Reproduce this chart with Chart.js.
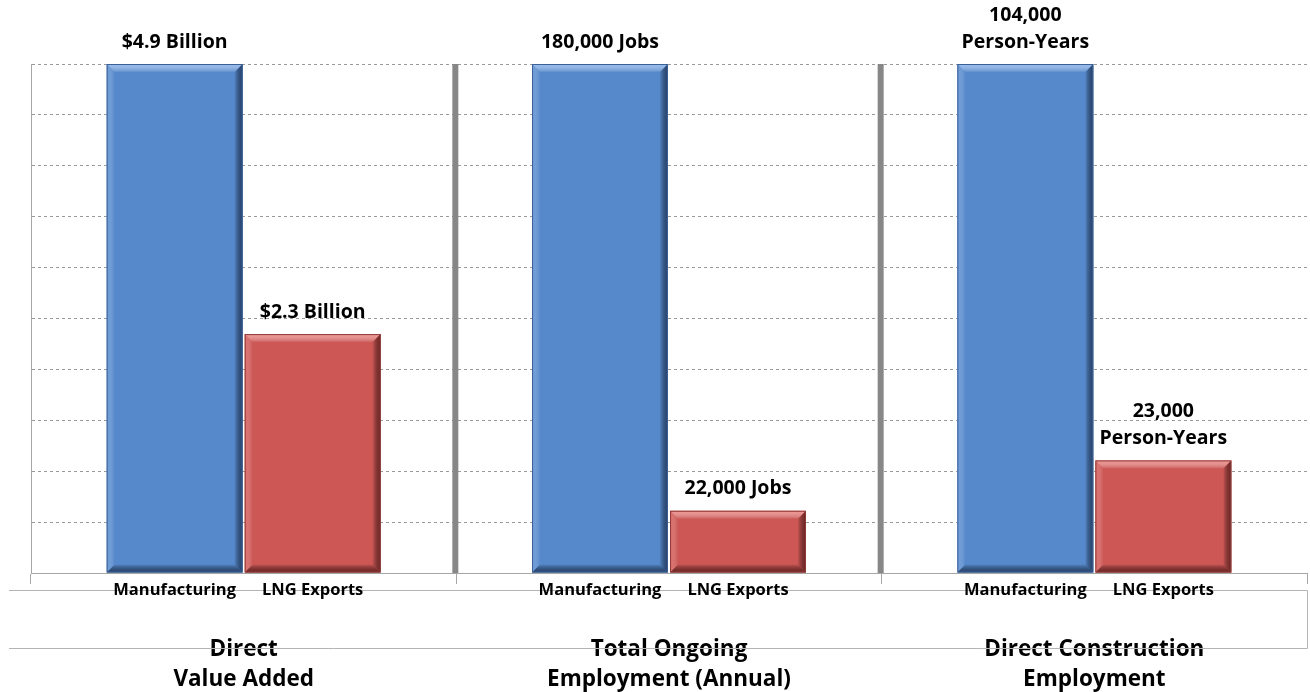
<!DOCTYPE html>
<html>
<head>
<meta charset="utf-8">
<script src="https://cdn.jsdelivr.net/npm/chart.js@4.4.0/dist/chart.umd.min.js"></script>
<style>
  html, body { margin: 0; padding: 0; background: #ffffff; }
  #wrap { width: 1310px; height: 692px; position: relative; }
</style>
</head>
<body>
<div id="wrap"><canvas id="c" width="1310" height="692"></canvas></div>
<script>
// ---- data ----
const groupLabels = [["Direct", "Value Added"], ["Total Ongoing", "Employment (Annual)"], ["Direct Construction", "Employment"]];
const seriesNames = ["Manufacturing", "LNG Exports"];
const manufacturingValues = [4.9, 180000, 104000];
const lngValues = [2.3, 22000, 23000];
const manufacturingLabels = [["$4.9 Billion"], ["180,000 Jobs"], ["104,000", "Person-Years"]];
const lngLabels = [["$2.3 Billion"], ["22,000 Jobs"], ["23,000", "Person-Years"]];
const yMin = 0, yMax = 100, yStep = 10;

// relative heights (share of manufacturing, in %)
const manufacturingShare = manufacturingValues.map(v => 100);
const lngShare = lngValues.map((v, i) => v / manufacturingValues[i] * 100);
const valueLabels = [manufacturingLabels, lngLabels];

const FONT = "'Open Sans', 'Noto Sans', 'DejaVu Sans', sans-serif";

const bevelPlugin = {
  id: 'bevel',
  afterDatasetsDraw(chart) {
    const ctx = chart.ctx;
    const shades = [
      { light: 'rgba(150,190,245,0.9)', side: 'rgba(120,165,230,0.5)', dark: 'rgba(30,55,95,0.85)', line: '#3d6194' },
      { light: 'rgba(245,150,145,0.9)', side: 'rgba(235,125,120,0.5)', dark: 'rgba(95,30,28,0.85)', line: '#8e3b38' }
    ];
    chart.data.datasets.forEach((ds, di) => {
      const meta = chart.getDatasetMeta(di);
      const s = shades[di];
      meta.data.forEach(el => {
        const l = el.x - el.width / 2, r = el.x + el.width / 2, t = el.y, b = el.base;
        const k = 8;
        ctx.save();
        let g = ctx.createLinearGradient(0, t, 0, t + k);
        g.addColorStop(0, s.light); g.addColorStop(1, 'rgba(255,255,255,0.05)');
        ctx.fillStyle = g;
        ctx.beginPath(); ctx.moveTo(l, t); ctx.lineTo(r, t); ctx.lineTo(r - k, t + k); ctx.lineTo(l + k, t + k); ctx.closePath(); ctx.fill();
        g = ctx.createLinearGradient(l, 0, l + k, 0);
        g.addColorStop(0, s.side); g.addColorStop(1, 'rgba(255,255,255,0)');
        ctx.fillStyle = g;
        ctx.beginPath(); ctx.moveTo(l, t); ctx.lineTo(l + k, t + k); ctx.lineTo(l + k, b - k); ctx.lineTo(l, b); ctx.closePath(); ctx.fill();
        g = ctx.createLinearGradient(r - k, 0, r, 0);
        g.addColorStop(0, 'rgba(0,0,0,0.05)'); g.addColorStop(1, s.dark);
        ctx.fillStyle = g;
        ctx.beginPath(); ctx.moveTo(r, t); ctx.lineTo(r, b); ctx.lineTo(r - k, b - k); ctx.lineTo(r - k, t + k); ctx.closePath(); ctx.fill();
        g = ctx.createLinearGradient(0, b - k, 0, b);
        g.addColorStop(0, 'rgba(0,0,0,0.05)'); g.addColorStop(1, s.dark);
        ctx.fillStyle = g;
        ctx.beginPath(); ctx.moveTo(l, b); ctx.lineTo(r, b); ctx.lineTo(r - k, b - k); ctx.lineTo(l + k, b - k); ctx.closePath(); ctx.fill();
        ctx.strokeStyle = s.line; ctx.lineWidth = 1;
        ctx.strokeRect(l + 0.5, t + 0.5, r - l - 1, b - t - 1);
        ctx.restore();
      });
    });
  }
};

const decorPlugin = {
  id: 'decor',
  beforeDatasetsDraw(chart) {
    const ctx = chart.ctx, ca = chart.chartArea, xs = chart.scales.x;
    const catW = (ca.right - ca.left) / groupLabels.length;
    ctx.save();
    ctx.strokeStyle = '#878787'; ctx.lineWidth = 6;
    for (let i = 0; i < groupLabels.length - 1; i++) {
      const px = xs.getPixelForValue(i) + catW / 2 - 1;
      ctx.beginPath(); ctx.moveTo(px, ca.top); ctx.lineTo(px, ca.bottom); ctx.stroke();
    }
    ctx.restore();
  },
  afterDraw(chart) {
    const ctx = chart.ctx, ca = chart.chartArea;
    ctx.save();
    ctx.strokeStyle = '#b4b4b4'; ctx.lineWidth = 1;
    ctx.beginPath();
    ctx.moveTo(9, ca.bottom + 17.5); ctx.lineTo(ca.right + 0.5, ca.bottom + 17.5);
    ctx.lineTo(ca.right + 0.5, ca.bottom + 75.5);
    ctx.lineTo(9, ca.bottom + 75.5);
    ctx.stroke();
    ctx.fillStyle = '#000';
    ctx.font = "bold 16.5px " + FONT;
    ctx.textAlign = 'center'; ctx.textBaseline = 'middle';
    chart.data.datasets.forEach((ds, di) => {
      chart.getDatasetMeta(di).data.forEach(el => {
        ctx.fillText(seriesNames[di], el.x, ca.bottom + 17);
      });
    });
    ctx.font = "bold 19.5px " + FONT;
    chart.data.datasets.forEach((ds, di) => {
      chart.getDatasetMeta(di).data.forEach((el, i) => {
        const lines = valueLabels[di][i];
        const n = lines.length;
        lines.forEach((txt, li) => {
          ctx.fillText(txt, el.x, el.y - 22 - (n - 1 - li) * 27);
        });
      });
    });
    ctx.restore();
  }
};

new Chart(document.getElementById('c'), {
  type: 'bar',
  data: {
    labels: groupLabels,
    datasets: [
      { label: seriesNames[0], data: manufacturingShare, backgroundColor: '#5689cb', borderWidth: 0 },
      { label: seriesNames[1], data: lngShare, backgroundColor: '#cc5755', borderWidth: 0 }
    ]
  },
  options: {
    responsive: false,
    animation: false,
    events: [],
    layout: { padding: { left: 31, right: 3, top: 64, bottom: 0 } },
    datasets: { bar: { categoryPercentage: 0.649, barPercentage: 0.985 } },
    plugins: { legend: { display: false }, tooltip: { enabled: false } },
    scales: {
      x: {
        afterFit(s) { s.height = 119; },
        grid: { display: true, drawOnChartArea: false, tickLength: 11, color: '#a6a6a6', lineWidth: 1, offset: true },
        border: { display: true, color: '#a6a6a6', width: 1 },
        ticks: {
          color: '#000',
          font: { family: FONT, size: 22.5, weight: 'bold', lineHeight: '30px' },
          padding: 51,
          maxRotation: 0, autoSkip: false
        }
      },
      y: {
        min: yMin, max: yMax,
        afterFit(s) { s.width = 0; },
        ticks: { display: false, stepSize: yStep },
        grid: { color: '#9a9a9a', lineWidth: 1, drawTicks: false },
        border: { display: true, color: '#a6a6a6', width: 1, dash: [3, 3] }
      }
    }
  },
  plugins: [decorPlugin, bevelPlugin]
});
</script>
</body>
</html>
